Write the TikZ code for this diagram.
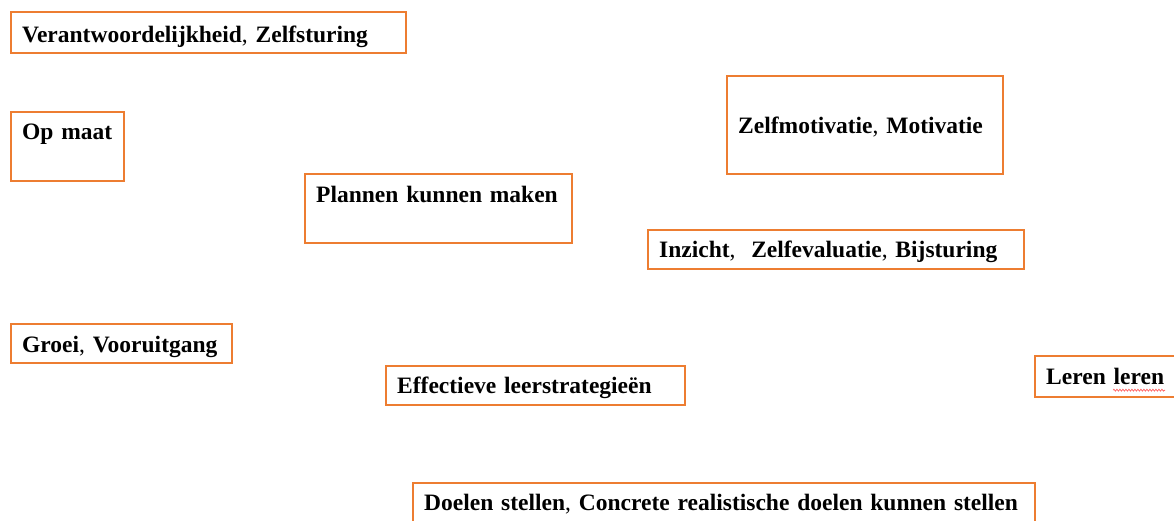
\documentclass[tikz,border=0pt]{standalone}
\usepackage{fontspec}
\setmainfont{Liberation Serif}
\usetikzlibrary{decorations.pathmorphing}
\definecolor{boxorange}{HTML}{ED7D31}
\tikzset{
  tag/.style={draw=boxorange, line width=2.4pt, anchor=north west, align=left,
    inner xsep=11pt, inner ysep=0pt,
    font=\fontsize{23.5}{28}\selectfont\bfseries},
}
\newcommand{\cm}{{\mdseries,}}
\begin{document}
\begin{tikzpicture}[x=1pt,y=-1pt]
    % page frame
    \useasboundingbox (0,0) rectangle (1174,520);
    \clip (0,0) rectangle (1174,520);

    % left column
    \node[tag, text width=373pt, text height=30pt, text depth=11pt] (resp) at (10,11) {\mbox{Verantwoordelijkheid\cm{} Zelfsturing}};
    \node[tag, text width=91pt, text height=27pt, text depth=42pt] (maat) at (10,111) {\mbox{Op maat}};
    \node[tag, text width=199pt, text height=28pt, text depth=11pt] (growth) at (10,323) {\mbox{Groei\cm{} Vooruitgang}};

    % middle
    \node[tag, text width=245pt, text height=28pt, text depth=41pt] (plan) at (304,173) {\mbox{Plannen kunnen maken}};
    \node[tag, text width=277pt, text height=27.5pt, text depth=11.5pt] (strat) at (385,365) {\mbox{Effectieve leerstrategieën}};
    \node[tag, text width=600pt, text height=27pt, text depth=21pt] (goals) at (412,482) {\mbox{Doelen stellen\cm{} Concrete realistische doelen kunnen stellen}};

    % right
    \node[tag, text width=254pt, text height=57.5pt, text depth=40.5pt] (motiv) at (726,75) {\mbox{Zelfmotivatie\cm{} Motivatie}};
    \node[tag, text width=354pt, text height=27pt, text depth=12pt] (insight) at (647,229) {\mbox{Inzicht\cm{}\ \ Zelfevaluatie\cm{} Bijsturing}};
    \node[tag, text width=134pt, text height=28pt, text depth=13pt] (leren) at (1034,355) {\mbox{Leren leren}};

    % spell check mark under the second word
    \draw[red!70, line width=0.6pt, decorate, decoration={snake, amplitude=1pt, segment length=3pt}]
        ([xshift=79pt,yshift=-6pt]leren.base west) -- ++(52,0);
\end{tikzpicture}
\end{document}
